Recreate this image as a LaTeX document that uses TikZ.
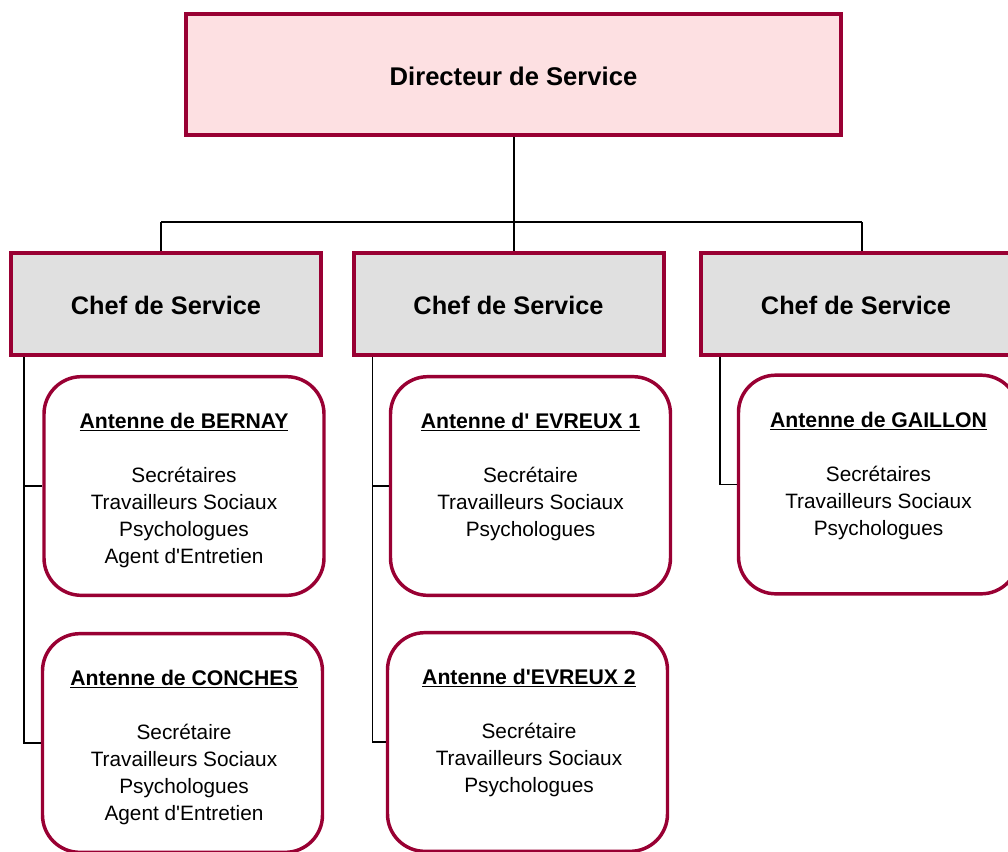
\documentclass[tikz,border=0pt]{standalone}
\usepackage{fontspec}
\setmainfont{Liberation Sans}
\usetikzlibrary{calc}
\definecolor{frame}{RGB}{153,0,51}
\definecolor{pinkfill}{RGB}{253,224,226}
\definecolor{greyfill}{RGB}{224,224,224}
\newcommand\apos{\textquotesingle}
\begin{document}
\begin{tikzpicture}[x=0.75pt,y=-0.75pt,
  topbox/.style={draw=frame, line width=3pt, fill=pinkfill, inner sep=0pt,
    minimum width=491.25pt, minimum height=90.75pt,
    text height=16.6pt, text depth=0pt,
    font=\bfseries\fontsize{19.2}{22}\selectfont},
  chefbox/.style={draw=frame, line width=3pt, fill=greyfill, inner sep=0pt,
    minimum width=232.5pt, minimum height=76.5pt,
    text height=16pt, text depth=0pt,
    font=\bfseries\fontsize{19}{22}\selectfont},
  antbox/.style={draw=frame, line width=2.6pt, fill=white, inner sep=0pt,
    rounded corners=28pt, minimum width=210pt, minimum height=164pt},
  anttext/.style={align=center, anchor=north, inner sep=0pt,
    font=\fontsize{15.6}{20.25}\selectfont},
  link/.style={line width=1.1pt, black}]
\useasboundingbox (0,0) rectangle (1008,851);
\clip (0,0) rectangle (1008,851);

% director
\node[topbox] (dir) at (513.5,74.5) {Directeur de Service};

% heads of service
\node[chefbox] (chef1) at (166,304) {Chef de Service};
\node[chefbox] (chef2) at (508.5,304) {Chef de Service};
\node[chefbox] (chef3) at (856,304) {Chef de Service};

% branch offices
\node[antbox] (bernay)  at (184,486) {};
\node[antbox] (conches) at (182.5,743) {};
\node[antbox] (evreuxA) at (530.5,486) {};
\node[antbox] (evreuxB) at (527.5,742) {};
\node[antbox] (gaillon) at (878.5,484.5) {};

\node[anttext] (bernay-t) at ($(bernay.north)+(0,38)$)
  {{\bfseries\fontsize{15.9}{20.25}\selectfont\underline{Antenne de BERNAY}}\\[20.25pt]
   Secrétaires\\Travailleurs Sociaux\\Psychologues\\Agent d\apos Entretien};
\node[anttext] (conches-t) at ($(conches.north)+(1.5,38)$)
  {{\bfseries\fontsize{15.9}{20.25}\selectfont\underline{Antenne de CONCHES}}\\[20.25pt]
   Secrétaire\\Travailleurs Sociaux\\Psychologues\\Agent d\apos Entretien};
\node[anttext] (evreuxA-t) at ($(evreuxA.north)+(0,38)$)
  {{\bfseries\fontsize{15.9}{20.25}\selectfont\underline{Antenne d\apos\ EVREUX 1}}\\[20.25pt]
   Secrétaire\\Travailleurs Sociaux\\Psychologues};
\node[anttext] (evreuxB-t) at ($(evreuxB.north)+(1.5,38)$)
  {{\bfseries\fontsize{15.9}{20.25}\selectfont\underline{Antenne d\apos EVREUX 2}}\\[20.25pt]
   Secrétaire\\Travailleurs Sociaux\\Psychologues};
\node[anttext] (gaillon-t) at ($(gaillon.north)+(0,38)$)
  {{\bfseries\fontsize{15.9}{20.25}\selectfont\underline{Antenne de GAILLON}}\\[20.25pt]
   Secrétaires\\Travailleurs Sociaux\\Psychologues};

% tree from the director down to the heads of service
\coordinate (j1) at (161,222);
\coordinate (j2) at (514,222);
\coordinate (j3) at (862,222);
\draw[link] (dir.south -| j2) -- (j2);
\draw[link] (j1) -- (j3);
\draw[link] (j1) -- (j1 |- chef1.north);
\draw[link] (j2) -- (j2 |- chef2.north);
\draw[link] (j3) -- (j3 |- chef3.north);

% side rails from each head of service to its offices
\coordinate (r1) at ($(chef1.south west)+(15,0)$);
\coordinate (r2) at ($(chef2.south west)+(21,0)$);
\coordinate (r3) at ($(chef3.south west)+(21,0)$);
\draw[link] (r1) |- (conches.west);
\draw[link] (r1 |- bernay.west) -- (bernay.west);
\draw[link] (r2) |- (evreuxB.west);
\draw[link] (r2 |- evreuxA.west) -- (evreuxA.west);
\draw[link] (r3) |- (gaillon.west);
\end{tikzpicture}
\end{document}
